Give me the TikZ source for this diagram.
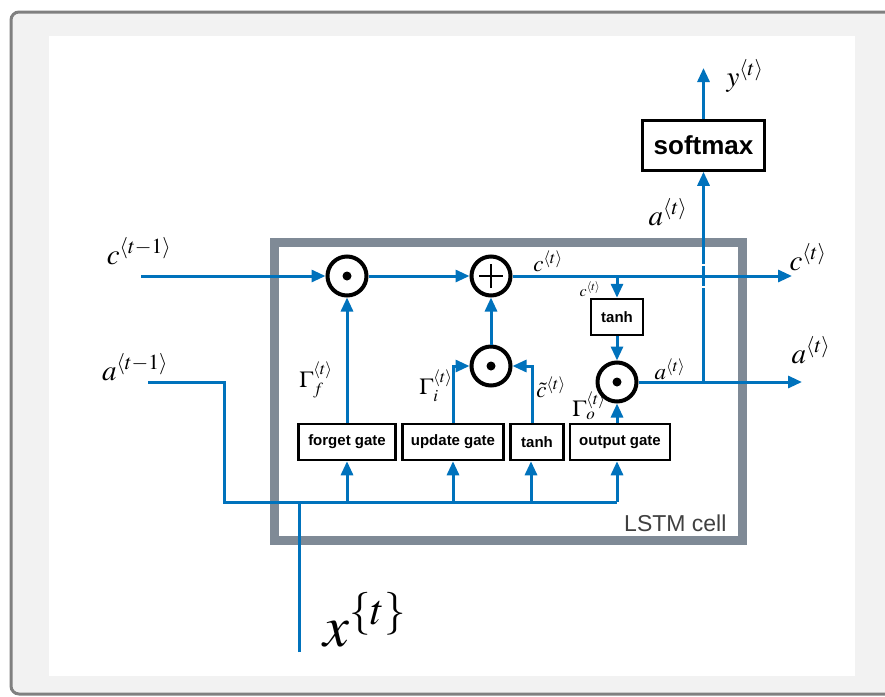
\RequirePackage{fix-cm}
\documentclass[tikz,border=0pt]{standalone}
\usepackage{mathptmx}
\usepackage{fontspec}
\usetikzlibrary{arrows.meta,positioning}
\newfontfamily\gatefont{Liberation Sans}
\definecolor{lstmblue}{HTML}{0072BC}
\definecolor{cellgray}{HTML}{7F8A96}
\definecolor{framefill}{HTML}{F2F2F2}

\begin{document}
\begin{tikzpicture}[x=1pt, y=-1pt, >={Triangle[length=14pt,width=12pt]},
  op/.style={circle, draw=black, line width=4pt, fill=white, minimum size=39pt, inner sep=0pt},
  mult/.style={op, path picture={\fill[black] (path picture bounding box.center) circle (4.5pt);}},
  sum/.style={op, path picture={\draw[black, line width=2pt]
    (path picture bounding box.center) +(-12pt,0) -- +(12pt,0)
    (path picture bounding box.center) +(0,-12pt) -- +(0,12pt);}},
  gate/.style={draw=black, line width=2.5pt, fill=white, inner sep=0pt, minimum height=36pt,
    font=\gatefont\bfseries\fontsize{15}{17}\selectfont},
  flow/.style={->, line width=3pt, draw=lstmblue},
  wire/.style={line width=3pt, draw=lstmblue},
  big/.style={inner sep=1pt, font=\fontsize{29}{31}\selectfont},
  mid/.style={inner sep=1pt, font=\fontsize{23}{25}\selectfont},
  tiny/.style={inner sep=1pt, font=\fontsize{16}{18}\selectfont}]
  \useasboundingbox (0,0) rectangle (885,696);
  \begin{scope}
    \clip (0,0) rectangle (885,696);
    \draw[draw=gray, fill=framefill, line width=3pt, rounded corners=8pt] (11,12) rectangle (905,694);
  \end{scope}
  \fill[white] (49,36) rectangle (855,676);

  % the cell
  \node[draw=cellgray, line width=9pt, fill=white, minimum width=468pt, minimum height=298pt,
    inner sep=0pt] (cell) at (508.5,391) {};
  \node[anchor=base east, text=black!75, font=\gatefont\fontsize{23}{25}\selectfont] (celltxt)
    at (730,531) {LSTM cell};

  \node[mult] (fmul) at (347,276) {};
  \node[sum] (add) at (491,276) {};
  \node[mult] (imul) at (491,366) {};
  \node[mult] (omul) at (617,382) {};
  \node[gate, minimum width=97pt] (forget) at (347,442) {forget gate};
  \node[gate, minimum width=101pt] (update) at (453,442) {update gate};
  \node[gate, minimum width=53pt] (tanhc) at (537,442) {tanh};
  \node[gate, minimum width=100pt] (output) at (620,442) {output gate};
  \node[gate, minimum width=52pt] (tanha) at (617,317) {tanh};
  \node[gate, minimum width=122pt, minimum height=50pt,
    font=\gatefont\bfseries\fontsize{26}{28}\selectfont] (softmax) at (703.5,145.5) {softmax};

  \coordinate (cin) at (141,276);
  \coordinate (cout) at (792,276);
  \coordinate (ain) at (148,382);
  \coordinate (aout) at (802,382);
  \coordinate (yout) at (703.5,68);
  \coordinate (bus) at (224,502);
  \coordinate (xin) at (299,652);
  \coordinate (tcs) at ([xshift=-6pt]tanhc.south);
  \coordinate (tcn) at ([xshift=-5pt]tanhc.north);
  \coordinate (ogs) at ([xshift=-3pt]output.south);

  % hidden state out and softmax
  \draw[flow] (omul.east -| softmax.south) -- (softmax.south);
  \fill[white] (700,264) rectangle (707,266);
  \fill[white] (700,286) rectangle (707,288);
  \draw[flow] (softmax) -- (yout);
  \draw[flow] (omul) -- (aout);

  % memory line
  \draw[flow] (cin) -- (fmul);
  \draw[flow] (fmul) -- (add);
  \draw[flow] (add) -- (cout);
  \draw[flow] (tanha.north |- add) -- (tanha);
  \draw[flow] (tanha) -- (omul);
  \draw[flow] (imul) -- (add);

  % gates
  \draw[flow] (forget) -- (fmul);
  \draw[flow] (update.north) |- (imul);
  \draw[flow] (tcn) |- (imul);
  \draw[flow] (output.north -| omul) -- (omul);

  % inputs
  \draw[wire] (ain) -| (bus) -- (bus -| ogs);
  \draw[wire] (xin) -- (xin |- bus);
  \draw[flow] (bus -| forget.south) -- (forget.south);
  \draw[flow] (bus -| update.south) -- (update.south);
  \draw[flow] (tcs |- bus) -- (tcs);
  \draw[flow] (ogs |- bus) -- (ogs);

  % labels
  \node[big] (lcprev) at (139,251) {$c^{\langle t-1\rangle}$};
  \node[big] (laprev) at (135,367) {$a^{\langle t-1\rangle}$};
  \node[big] (lcnext) at (808,257) {$c^{\langle t\rangle}$};
  \node[big] (lanext) at (811,350) {$a^{\langle t\rangle}$};
  \node[big] (ly) at (745,76) {$y^{\langle t\rangle}$};
  \node[big] (lasoft) at (668,212) {$a^{\langle t\rangle}$};
  \node[mid] (lcline) at (548,261) {$c^{\langle t\rangle}$};
  \node[tiny] (lcbranch) at (590,289) {$c^{\langle t\rangle}$};
  \node[mid] (laline) at (670,369) {$a^{\langle t\rangle}$};
  \node[mid] (lgf) at (316,380) {$\Gamma_f^{\langle t\rangle}$};
  \node[mid] (lgi) at (436,386) {$\Gamma_i^{\langle t\rangle}$};
  \node[mid] (lct) at (551,387) {$\tilde{c}^{\langle t\rangle}$};
  \node[mid] (lgo) at (589,406) {$\Gamma_o^{\langle t\rangle}$};
  \node[font=\fontsize{58}{60}\selectfont, anchor=base west] (lx) at (320,646) {$x^{\{t\}}$};
\end{tikzpicture}
\end{document}
